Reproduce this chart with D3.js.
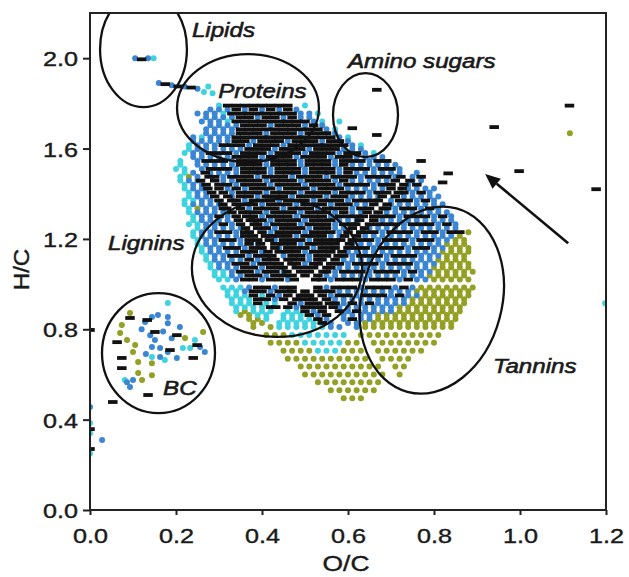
<!DOCTYPE html>
<html>
<head>
<meta charset="utf-8">
<script src="https://cdn.jsdelivr.net/npm/d3@7/dist/d3.min.js"></script>
<style>
  html, body { margin: 0; padding: 0; background: #fff; }
  svg { display: block; }
  text { font-family: "Liberation Sans", Arial, Helvetica, sans-serif; fill: #1a1a1a; }
</style>
</head>
<body>
<svg id="chart" width="629" height="577"></svg>
<script>
// ---- Van Krevelen data: rows of [H/C, [O/C values]] per compound colour group ----
const blackRows = [
  [1.79, [0.32,0.34,0.36,0.38,0.40,0.42,0.44,0.46]],
  [1.773,[0.34,0.38,0.42,0.46]],
  [1.755,[0.33,0.35,0.37,0.39,0.41,0.43,0.45,0.47]],
  [1.738,[0.35,0.37,0.41,0.43,0.47]],
  [1.72, [0.34,0.36,0.38,0.40,0.42,0.44,0.46,0.48,0.50]],
  [1.703,[0.36,0.38,0.40,0.44,0.46,0.48,0.52]],
  [1.685,[0.35,0.37,0.39,0.41,0.43,0.45,0.47,0.49,0.51,0.53]],
  [1.668,[0.35,0.37,0.39,0.43,0.45,0.47,0.51,0.53,0.55]],
  [1.65, [0.34,0.36,0.38,0.40,0.42,0.44,0.46,0.48,0.50,0.52,0.54,0.56]],
  [1.633,[0.34,0.36,0.40,0.42,0.44,0.48,0.50,0.52,0.56,0.58]],
  [1.615,[0.31,0.33,0.35,0.39,0.41,0.43,0.47,0.49,0.51,0.53,0.55,0.57,0.59]],
  [1.598,[0.37,0.39,0.41,0.45,0.47,0.49,0.53,0.55,0.57]],
  [1.58, [0.28,0.30,0.32,0.36,0.38,0.40,0.44,0.46,0.48,0.52,0.54,0.56,0.60,0.62]],
  [1.563,[0.34,0.36,0.38,0.42,0.44,0.46,0.50,0.52,0.54,0.58,0.60]],
  [1.545,[0.27,0.29,0.31,0.35,0.37,0.39,0.43,0.45,0.47,0.51,0.53,0.55,0.59,0.61,0.63,0.67,0.69,0.77]],
  [1.528,[0.35,0.37,0.39,0.43,0.45,0.47,0.51,0.53,0.55,0.59]],
  [1.51, [0.28,0.30,0.32,0.36,0.38,0.40,0.44,0.46,0.48,0.52,0.54,0.56,0.60,0.62,0.64,0.68,0.70]],
  [1.493,[0.268,0.36,0.38,0.40,0.44,0.46,0.48,0.52,0.54,0.56,0.60]],
  [1.475,[0.277,0.29,0.33,0.35,0.37,0.41,0.43,0.45,0.49,0.51,0.53,0.57,0.59,0.61,0.65,0.67,0.69,0.723,0.77]],
  [1.458,[0.257,0.29,0.35,0.37,0.39,0.43,0.45,0.47,0.51,0.53,0.55,0.59,0.71,0.744]],
  [1.44, [0.27,0.30,0.32,0.36,0.38,0.40,0.44,0.46,0.48,0.52,0.54,0.56,0.60,0.62,0.64,0.68,0.70,0.73,0.76]],
  [1.423,[0.274,0.30,0.34,0.38,0.40,0.42,0.46,0.48,0.50,0.54,0.56,0.58,0.70,0.726]],
  [1.405,[0.283,0.31,0.35,0.37,0.39,0.43,0.45,0.47,0.51,0.53,0.55,0.59,0.61,0.63,0.67,0.69,0.717,0.73,0.77]],
  [1.388,[0.29,0.3205,0.35,0.37,0.41,0.43,0.45,0.49,0.51,0.53,0.57,0.59,0.6795,0.71]],
  [1.37, [0.30,0.3295,0.34,0.38,0.40,0.42,0.46,0.48,0.50,0.54,0.56,0.58,0.62,0.64,0.66,0.6705,0.72,0.74,0.78]],
  [1.353,[0.309,0.34,0.36,0.38,0.42,0.44,0.46,0.50,0.52,0.54,0.58,0.60,0.66,0.691]],
  [1.335,[0.31,0.318,0.35,0.39,0.41,0.43,0.47,0.49,0.51,0.55,0.57,0.59,0.63,0.65,0.682,0.69,0.73,0.75,0.79]],
  [1.318,[0.33,0.3555,0.37,0.39,0.43,0.45,0.47,0.51,0.53,0.55,0.59,0.6445,0.67]],
  [1.30, [0.30,0.34,0.3645,0.38,0.42,0.44,0.46,0.50,0.52,0.54,0.58,0.60,0.62,0.6355,0.66,0.68,0.70,0.74,0.76,0.78,0.82]],
  [1.283,[0.345,0.373,0.38,0.40,0.44,0.46,0.48,0.52,0.54,0.56,0.627,0.66]],
  [1.265,[0.31,0.35,0.382,0.39,0.43,0.45,0.47,0.51,0.53,0.55,0.59,0.61,0.618,0.65,0.67,0.69,0.71,0.75,0.77,0.79,0.83]],
  [1.248,[0.3615,0.39,0.41,0.45,0.47,0.49,0.53,0.55,0.61,0.6385]],
  [1.23, [0.30,0.32,0.36,0.3705,0.40,0.44,0.46,0.48,0.52,0.54,0.56,0.60,0.6295,0.64,0.66,0.70,0.72,0.74,0.78,0.80,0.84,0.86]],
  [1.213,[0.36,0.38,0.408,0.42,0.44,0.46,0.50,0.52,0.54,0.592,0.62]],
  [1.195,[0.31,0.33,0.37,0.39,0.417,0.45,0.47,0.49,0.53,0.55,0.57,0.583,0.61,0.63,0.65,0.69,0.71,0.73,0.77,0.79]],
  [1.178,[0.37,0.3965,0.43,0.45,0.47,0.51,0.53,0.55,0.57,0.6035]],
  [1.16, [0.32,0.34,0.38,0.40,0.43,0.46,0.48,0.50,0.54,0.56,0.57,0.60,0.62,0.64,0.68,0.70,0.72,0.76,0.78]],
  [1.143,[0.36,0.38,0.414,0.44,0.46,0.48,0.52,0.54,0.56,0.586]],
  [1.125,[0.33,0.35,0.39,0.41,0.423,0.47,0.49,0.53,0.55,0.577,0.59,0.63,0.65,0.67,0.71,0.73,0.75]],
  [1.108,[0.37,0.41,0.43,0.4605,0.47,0.49,0.53,0.5395,0.57]],
  [1.09, [0.34,0.36,0.40,0.42,0.44,0.4695,0.48,0.52,0.5305,0.56,0.58,0.62,0.64,0.66,0.70,0.72,0.74]],
  [1.073,[0.36,0.38,0.42,0.44,0.449,0.48,0.50,0.52,0.551,0.56]],
  [1.055,[0.35,0.37,0.41,0.43,0.458,0.49,0.51,0.542,0.55,0.59,0.61,0.63,0.67,0.69,0.71,0.75]],
  [1.038,[0.37,0.39,0.43,0.45,0.47,0.50,0.53]],
  [1.02, [0.36,0.38,0.42,0.44,0.475,0.525,0.54,0.58,0.60,0.62,0.66,0.68,0.70,0.74]],
  [0.985,[0.39,0.41,0.45,0.47,0.53,0.57,0.59,0.61,0.65,0.67,0.69,0.73]],
  [0.968,[0.38,0.40,0.44,0.46,0.47,0.50,0.53,0.54,0.56]],
  [0.95, [0.38,0.42,0.46,0.4895,0.50,0.5105,0.54,0.58,0.60,0.64,0.66,0.68,0.72]],
  [0.933,[0.39,0.41,0.45,0.481,0.49,0.51,0.519,0.55]],
  [0.915,[0.39,0.47,0.51,0.53,0.557,0.57,0.61,0.65]],
  [0.898,[0.42,0.432,0.46,0.50,0.52,0.54,0.5655]],
  [0.88, [0.50,0.54,0.58,0.62]],
  [0.863,[0.51,0.55]],
  [0.845,[0.53,0.61]],
  [0.828,[0.54]]
];
const blueRows = [
  [1.773,[0.28,0.30,0.32,0.36,0.40,0.44,0.48]],
  [1.755,[0.25,0.27,0.29,0.49,0.51]],
  [1.738,[0.27,0.29,0.31,0.33,0.39,0.45,0.49,0.51]],
  [1.72, [0.26,0.28,0.30,0.52]],
  [1.703,[0.28,0.30,0.32,0.34,0.42,0.50,0.54]],
  [1.685,[0.27,0.29,0.31,0.33,0.55]],
  [1.668,[0.27,0.29,0.31,0.33,0.41,0.49,0.57]],
  [1.65, [0.24,0.28,0.30,0.32,0.58]],
  [1.633,[0.24,0.26,0.28,0.30,0.32,0.38,0.46,0.54,0.60]],
  [1.615,[0.25,0.27,0.29,0.37,0.45,0.61]],
  [1.598,[0.25,0.27,0.29,0.31,0.33,0.35,0.43,0.51,0.59,0.61,0.63]],
  [1.58, [0.24,0.26,0.34,0.42,0.50,0.58,0.64]],
  [1.563,[0.24,0.26,0.28,0.30,0.32,0.40,0.48,0.56,0.62,0.64,0.66,0.68]],
  [1.545,[0.25,0.33,0.41,0.49,0.57,0.65]],
  [1.528,[0.25,0.27,0.29,0.31,0.33,0.41,0.49,0.57,0.61,0.63,0.65,0.67,0.69,0.71]],
  [1.51, [0.26,0.34,0.42,0.50,0.58,0.66,0.72]],
  [1.493,[0.24,0.28,0.30,0.32,0.34,0.42,0.50,0.58,0.62,0.64,0.66,0.68,0.70,0.72,0.76]],
  [1.475,[0.25,0.31,0.39,0.47,0.55,0.63,0.71,0.75]],
  [1.458,[0.23,0.25,0.31,0.33,0.41,0.49,0.57,0.61,0.63,0.65,0.67,0.69,0.75,0.77]],
  [1.44, [0.24,0.26,0.34,0.42,0.50,0.58,0.66,0.74]],
  [1.423,[0.24,0.26,0.32,0.36,0.44,0.52,0.60,0.62,0.64,0.66,0.68,0.74,0.76,0.78,0.80]],
  [1.405,[0.25,0.27,0.33,0.41,0.49,0.57,0.65,0.75,0.79]],
  [1.388,[0.25,0.27,0.33,0.39,0.47,0.55,0.61,0.63,0.65,0.67,0.73,0.75,0.77,0.79,0.81]],
  [1.37, [0.26,0.28,0.36,0.44,0.52,0.60,0.70,0.76,0.80]],
  [1.353,[0.24,0.26,0.28,0.30,0.40,0.48,0.56,0.62,0.64,0.70,0.72,0.74,0.76,0.78,0.80,0.82]],
  [1.335,[0.27,0.29,0.37,0.45,0.53,0.61,0.71,0.77,0.81]],
  [1.318,[0.25,0.27,0.29,0.31,0.41,0.49,0.57,0.61,0.63,0.69,0.71,0.73,0.75,0.77,0.79,0.81,0.83]],
  [1.30, [0.26,0.28,0.32,0.40,0.48,0.56,0.72,0.80,0.84]],
  [1.283,[0.26,0.28,0.30,0.32,0.42,0.50,0.58,0.60,0.62,0.68,0.70,0.72,0.74,0.76,0.78,0.80,0.82,0.84]],
  [1.265,[0.27,0.29,0.33,0.41,0.49,0.57,0.73,0.81,0.85]],
  [1.248,[0.27,0.29,0.31,0.33,0.35,0.43,0.51,0.57,0.59,0.65,0.67,0.69,0.71,0.73,0.75,0.77,0.79,0.81,0.83,0.85]],
  [1.23, [0.26,0.28,0.34,0.42,0.50,0.58,0.68,0.76,0.82]],
  [1.213,[0.26,0.28,0.30,0.32,0.34,0.48,0.56,0.58,0.64,0.66,0.68,0.70,0.72,0.74,0.76,0.78,0.80,0.82,0.84]],
  [1.195,[0.27,0.29,0.35,0.43,0.51,0.67,0.75,0.81,0.83]],
  [1.178,[0.27,0.29,0.31,0.33,0.35,0.39,0.49,0.61,0.63,0.65,0.67,0.69,0.71,0.73,0.75,0.77,0.79,0.81]],
  [1.16, [0.28,0.30,0.36,0.44,0.52,0.66,0.74,0.80,0.82]],
  [1.143,[0.28,0.30,0.32,0.34,0.40,0.50,0.60,0.62,0.64,0.66,0.68,0.70,0.72,0.74,0.76,0.78,0.80]],
  [1.125,[0.29,0.31,0.37,0.45,0.51,0.61,0.69,0.77,0.79,0.81]],
  [1.108,[0.29,0.31,0.33,0.35,0.39,0.51,0.59,0.61,0.63,0.65,0.67,0.69,0.71,0.73,0.75,0.77,0.79]],
  [1.09, [0.30,0.32,0.38,0.50,0.60,0.68,0.76,0.78,0.80]],
  [1.073,[0.30,0.32,0.34,0.40,0.58,0.60,0.62,0.64,0.66,0.68,0.70,0.72,0.74,0.76,0.78]],
  [1.055,[0.33,0.39,0.45,0.57,0.65,0.73,0.77,0.79]],
  [1.038,[0.33,0.35,0.41,0.55,0.57,0.59,0.61,0.63,0.65,0.67,0.69,0.71,0.73,0.75,0.77]],
  [1.02, [0.34,0.40,0.46,0.56,0.64,0.72,0.76,0.78]],
  [0.985,[0.37,0.43,0.55,0.63,0.71,0.75]],
  [0.968,[0.36,0.42,0.58,0.60,0.62,0.64,0.66,0.68,0.70,0.72,0.74]],
  [0.95, [0.44,0.56,0.62,0.70,0.74,0.76]],
  [0.933,[0.43,0.57,0.59,0.61,0.63,0.65,0.67,0.69,0.71,0.73]],
  [0.915,[0.49,0.59,0.63,0.67,0.69,0.71,0.73]],
  [0.898,[0.48,0.58,0.60,0.62,0.64,0.66,0.68,0.70]],
  [0.88, [0.52,0.60,0.64,0.66,0.68,0.70]],
  [0.863,[0.53,0.59,0.61,0.63,0.65]],
  [0.845,[0.55,0.59,0.63,0.65]],
  [0.828,[0.56,0.60,0.62]],
  [0.81, [0.56,0.58,0.62]]
];
const cyanRows = [
  [1.79, [0.30,0.50]],
  [1.755,[0.31,0.53]],
  [1.72, [0.32,0.54,0.58]],
  [1.685,[0.57]],
  [1.65, [0.26,0.60]],
  [1.615,[0.23,0.63]],
  [1.598,[0.23]],
  [1.58, [0.22,0.66]],
  [1.545,[0.21]],
  [1.528,[0.21]],
  [1.51, [0.20,0.22]],
  [1.493,[0.22]],
  [1.475,[0.21]],
  [1.458,[0.21]],
  [1.44, [0.22]],
  [1.423,[0.22]],
  [1.405,[0.23]],
  [1.388,[0.23]],
  [1.37, [0.22,0.24]],
  [1.353,[0.22]],
  [1.335,[0.23]],
  [1.318,[0.23]],
  [1.30, [0.24]],
  [1.283,[0.24]],
  [1.265,[0.23,0.25]],
  [1.248,[0.25]],
  [1.23, [0.24]],
  [1.213,[0.24]],
  [1.195,[0.25]],
  [1.178,[0.25]],
  [1.16, [0.26]],
  [1.143,[0.26]],
  [1.125,[0.27]],
  [1.108,[0.27]],
  [1.09, [0.28]],
  [1.073,[0.28]],
  [1.055,[0.29,0.31]],
  [1.038,[0.29,0.31]],
  [1.02, [0.30,0.32]],
  [0.985,[0.31,0.33,0.35]],
  [0.968,[0.32,0.34]],
  [0.95, [0.32,0.34,0.36,0.40]],
  [0.933,[0.33,0.35,0.37]],
  [0.915,[0.33,0.35,0.37,0.41,0.43]],
  [0.898,[0.34,0.36,0.38,0.40]],
  [0.88, [0.34,0.38,0.40,0.42,0.46,0.48]],
  [0.863,[0.39,0.41,0.45,0.47,0.49]],
  [0.845,[0.41,0.45,0.47,0.49,0.51]],
  [0.828,[0.44,0.46,0.48,0.50,0.52]],
  [0.81, [0.44,0.46,0.48,0.50,0.52,0.54]],
  [0.775,[0.47,0.49,0.51,0.53,0.55,0.57,0.59]],
  [0.74, [0.50,0.52,0.54,0.56,0.58]],
  [0.705,[0.53,0.55,0.57]]
];
const oliveRows = [
  [1.475,[0.23]],
  [1.335,[0.25]],
  [1.23, [0.88]],
  [1.213,[0.86]],
  [1.195,[0.85,0.87]],
  [1.178,[0.83,0.85,0.87]],
  [1.16, [0.84,0.86,0.88]],
  [1.143,[0.82,0.84,0.86,0.88]],
  [1.125,[0.83,0.85,0.87]],
  [1.108,[0.81,0.83,0.85,0.87]],
  [1.09, [0.82,0.84,0.86,0.88]],
  [1.073,[0.80,0.82,0.84,0.86,0.88]],
  [1.055,[0.81,0.83,0.85,0.87,0.89]],
  [1.038,[0.79,0.81,0.83,0.85,0.87]],
  [1.02, [0.80,0.82,0.84,0.86,0.88]],
  [0.985,[0.77,0.79,0.81,0.83,0.85,0.87,0.89]],
  [0.968,[0.76,0.78,0.80,0.82,0.84,0.86,0.88]],
  [0.95, [0.78,0.80,0.82,0.84,0.86,0.88]],
  [0.933,[0.75,0.77,0.79,0.81,0.83,0.85,0.87]],
  [0.915,[0.75,0.77,0.79,0.81,0.83,0.85,0.87]],
  [0.898,[0.72,0.74,0.76,0.78,0.80,0.82,0.84,0.86]],
  [0.88, [0.36,0.72,0.74,0.76,0.78,0.80,0.82,0.84,0.86]],
  [0.863,[0.35,0.37,0.67,0.69,0.71,0.73,0.75,0.77,0.79,0.81,0.83,0.85]],
  [0.845,[0.37,0.39,0.67,0.69,0.71,0.73,0.75,0.77,0.79,0.81,0.83,0.85]],
  [0.828,[0.38,0.40,0.64,0.66,0.68,0.70,0.72,0.74,0.76,0.78,0.80,0.82,0.84]],
  [0.81, [0.38,0.42,0.64,0.66,0.68,0.70,0.72,0.74,0.76,0.78,0.80,0.82,0.84]],
  [0.775,[0.41,0.43,0.45,0.63,0.65,0.67,0.69,0.71,0.73,0.75,0.77,0.79,0.81]],
  [0.74, [0.42,0.44,0.46,0.48,0.60,0.62,0.66,0.68,0.70,0.72,0.74,0.76,0.78,0.80]],
  [0.705,[0.45,0.47,0.49,0.51,0.59,0.61,0.63,0.67,0.69,0.71,0.73,0.75,0.77]],
  [0.67, [0.46,0.48,0.50,0.52,0.54,0.56,0.58,0.60,0.62,0.64,0.68,0.70,0.72,0.74]],
  [0.635,[0.49,0.51,0.53,0.55,0.57,0.59,0.61,0.63,0.65,0.67,0.71,0.73]],
  [0.60, [0.50,0.52,0.54,0.56,0.58,0.60,0.62,0.64,0.66,0.68,0.72]],
  [0.565,[0.53,0.55,0.57,0.59,0.61,0.63,0.65,0.67]],
  [0.53, [0.56,0.58,0.60,0.62,0.64,0.66]],
  [0.495,[0.59,0.61,0.63]]
];

// ---- Individual points [O/C, H/C]: lipids, BC cluster, outliers ----
const blackPoints = [
  [0.12,1.995],[0.175,1.885],[0.205,1.875],[0.235,1.87],
  [0.667,1.86],[0.61,1.69],[0.667,1.66],[0.94,1.695],[1.115,1.79],
  [0.998,1.50],[1.177,1.42],[0.833,1.49],[0.82,1.45],
  [0.093,0.850],[0.133,0.841],[0.151,0.788],[0.202,0.774],[0.063,0.743],
  [0.186,0.708],[0.249,0.730],[0.240,0.673],[0.074,0.673],[0.074,0.628],
  [0.135,0.509],[0.053,0.478],
  [0,0.797],[0,0.358],[0,0.27]
];
const bluePoints = [
  [0.105,2.0],[0.135,2.0],[0.16,1.89],[0.19,1.88],[0.22,1.875],[0.25,1.865],
  [0.128,0.832],[0.144,0.854],[0.158,0.863],[0.181,0.854],[0.181,0.827],
  [0.140,0.774],[0.151,0.752],[0.144,0.721],[0.163,0.717],[0.181,0.699],
  [0.163,0.677],[0.209,0.810],[0.202,0.673],[0.256,0.721],[0.267,0.699],
  [0.100,0.575],[0.086,0.566],[0.093,0.544],[0.12,0.80],[0.17,0.79],
  [0.13,0.69],[0.19,0.76],
  [0,0.456],[0.028,0.31]
];
const cyanPoints = [
  [0.148,2.0],[0.265,1.85],[0.275,1.875],[0.285,1.845],
  [0.181,0.916],[0.233,0.717],[0.216,0.717],[0.144,0.677],[0.081,0.575],
  [0.174,0.664],[0.244,0.752],
  [0,0.385],[0,0.34],[0,0.25],
  [1.198,0.915]
];
const olivePoints = [
  [0.093,0.872],[0.074,0.819],[0.070,0.783],[0.086,0.752],[0.105,0.730],
  [0.100,0.699],[0.112,0.655],[0.144,0.650],[0.112,0.606],[0.144,0.597],
  [0.121,0.575],[0.263,0.788],[0.221,0.761],
  [1.116,1.668]
];

// ---- Axis ticks ----
const xTicks = [0, 0.2, 0.4, 0.6, 0.8, 1.0, 1.2];
const yTicks = [0, 0.4, 0.8, 1.2, 1.6, 2.0];

// ---- Compound-class regions: [label, centre O/C, centre H/C, radius O/C, radius H/C, tilt deg] ----
const regions = [
  ["Lipids",       0.1244, 2.040, 0.101, 0.2566, 0],
  ["Proteins",     0.3674, 1.779, 0.165, 0.239, 0],
  ["Amino sugars", 0.6407, 1.748, 0.0756, 0.186, 0],
  ["Lignins",      0.4349, 1.071, 0.198, 0.305, 0],
  ["Tannins",      0.795,  0.929, 0.163, 0.420, 15],
  ["BC",           0.1593, 0.6947, 0.1314, 0.2655, 0]
];
// label anchor positions (left, baseline) in O/C, H/C
const regionLabels = [
  ["Lipids",       0.237, 2.093],
  ["Proteins",     0.298, 1.823],
  ["Amino sugars", 0.600, 1.956],
  ["Lignins",      0.042, 1.150],
  ["Tannins",      0.937, 0.606],
  ["BC",           0.170, 0.509]
];
// arrow: from tail to head, in O/C, H/C
const arrowTail = [1.112, 1.181];
const arrowHead = [0.919, 1.487];

const colors = { black: "#111111", blue: "#3a86d3", cyan: "#3fd3df", olive: "#93a023" };

const svg = d3.select("#chart");
const W = 629, H = 577;
const margin = { left: 90, right: 23, top: 13, bottom: 67 };
const x = d3.scaleLinear().domain([0, 1.2]).range([margin.left, W - margin.right]);
const y = d3.scaleLinear().domain([0, 2.2]).range([H - margin.bottom, margin.top]);

const flatten = rows => rows.flatMap(([hc, ocs]) => ocs.map(oc => [oc, hc]));

svg.append("defs").append("clipPath").attr("id", "plotClip")
  .append("rect")
  .attr("x", x(0)).attr("y", y(2.2))
  .attr("width", x(1.2) - x(0)).attr("height", y(0) - y(2.2));

const plot = svg.append("g").attr("clip-path", "url(#plotClip)");

function dots(data, color) {
  plot.append("g").selectAll("circle").data(data).join("circle")
    .attr("cx", d => x(d[0])).attr("cy", d => y(d[1]))
    .attr("r", 3).attr("fill", color);
}
dots(flatten(oliveRows).concat(olivePoints), colors.olive);
dots(flatten(cyanRows).concat(cyanPoints), colors.cyan);
dots(flatten(blueRows).concat(bluePoints), colors.blue);

const dashW = 9.5, dashH = 3.8;
plot.append("g").selectAll("rect").data(flatten(blackRows).concat(blackPoints)).join("rect")
  .attr("x", d => x(d[0]) - dashW / 2).attr("y", d => y(d[1]) - dashH / 2)
  .attr("width", dashW).attr("height", dashH).attr("fill", colors.black);

// region ellipses
const kx = x(1) - x(0), ky = y(0) - y(1);
plot.append("g").selectAll("ellipse").data(regions).join("ellipse")
  .attr("transform", d => `translate(${x(d[1])},${y(d[2])}) rotate(${d[5]})`)
  .attr("rx", d => d[3] * kx).attr("ry", d => d[4] * ky)
  .attr("fill", "none").attr("stroke", "#111").attr("stroke-width", 2.3);

// arrow
const hx = x(arrowHead[0]), hy = y(arrowHead[1]);
const tx = x(arrowTail[0]), ty = y(arrowTail[1]);
const ang = Math.atan2(hy - ty, hx - tx);
const headLen = 15, headHalf = 6.5;
const bx = hx - headLen * Math.cos(ang), by = hy - headLen * Math.sin(ang);
svg.append("line").attr("x1", tx).attr("y1", ty).attr("x2", bx).attr("y2", by)
  .attr("stroke", "#111").attr("stroke-width", 2.6);
svg.append("path")
  .attr("d", `M${hx},${hy} L${bx + headHalf * Math.sin(ang)},${by - headHalf * Math.cos(ang)} L${bx - headHalf * Math.sin(ang)},${by + headHalf * Math.cos(ang)} Z`)
  .attr("fill", "#111");

// region labels
const SX = 1.15;
svg.append("g").selectAll("text").data(regionLabels).join("text")
  .attr("transform", d => `translate(${x(d[1])},${y(d[2])}) scale(${SX},1)`)
  .attr("font-size", 21).attr("font-style", "italic")
  .attr("stroke", "#1a1a1a").attr("stroke-width", 0.6)
  .text(d => d[0]);

// axes
const yAxis = svg.append("g").attr("transform", `translate(${x(0)},0)`)
  .call(d3.axisLeft(y).tickValues(yTicks).tickFormat(d3.format(".1f")).tickSize(7).tickSizeOuter(0));
const xAxis = svg.append("g").attr("transform", `translate(0,${y(0)})`)
  .call(d3.axisBottom(x).tickValues(xTicks).tickFormat(d3.format(".1f")).tickSize(5).tickSizeOuter(0));
[yAxis, xAxis].forEach(a => {
  a.select(".domain").remove();
  a.selectAll(".tick line").attr("stroke", "#222").attr("stroke-width", 2);
  a.selectAll("text").attr("font-size", 21).attr("fill", "#1a1a1a")
    .attr("stroke", "#1a1a1a").attr("stroke-width", 0.4)
    .attr("font-family", "'Liberation Sans', Arial, sans-serif");
});
yAxis.selectAll("text").attr("x", -12 / 1.2).attr("dy", "0.36em").attr("transform", "scale(1.2,1)");
xAxis.selectAll("text").attr("y", 33).attr("dy", null).attr("transform", "scale(1.2,1)");

// frame
svg.append("rect")
  .attr("x", x(0)).attr("y", y(2.2))
  .attr("width", x(1.2) - x(0)).attr("height", y(0) - y(2.2))
  .attr("fill", "none").attr("stroke", "#222").attr("stroke-width", 2);

// axis titles
svg.append("text").attr("transform", `translate(${(x(0) + x(1.2)) / 2 - 2},571) scale(1.2,1)`)
  .attr("text-anchor", "middle").attr("font-size", 22)
  .attr("stroke", "#1a1a1a").attr("stroke-width", 0.4).text("O/C");
svg.append("text").attr("transform", `translate(29,${(y(0) + y(2.2)) / 2 + 8}) rotate(-90) scale(1.1,1)`)
  .attr("text-anchor", "middle").attr("font-size", 22)
  .attr("stroke", "#1a1a1a").attr("stroke-width", 0.4).text("H/C");
</script>
</body>
</html>
